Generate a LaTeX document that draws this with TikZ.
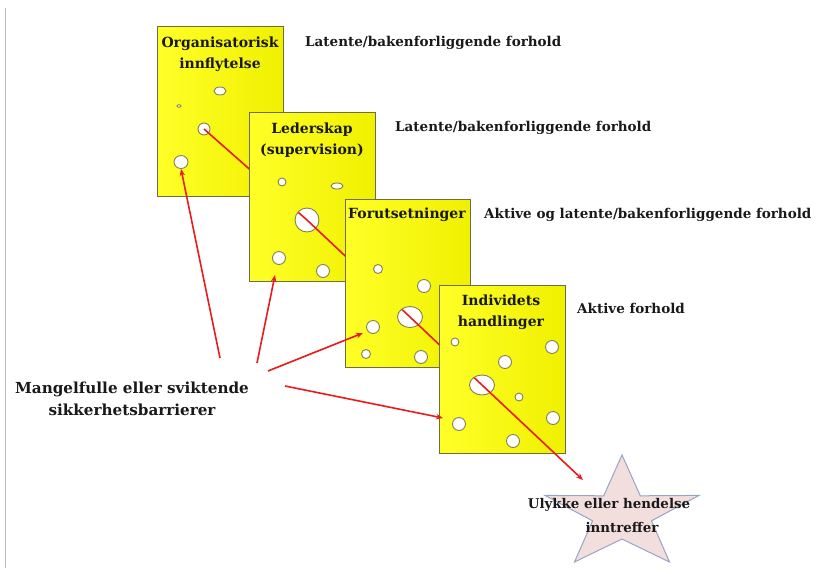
\documentclass[tikz,border=0pt]{standalone}
\usepackage{fontspec}
\setmainfont{DejaVu Serif}
\usetikzlibrary{arrows.meta,calc,shapes.geometric}

\definecolor{sliceedge}{RGB}{110,110,70}
\definecolor{holeedge}{RGB}{130,130,80}
\definecolor{slicelight}{RGB}{255,255,40}
\definecolor{slicedark}{RGB}{240,240,0}
\definecolor{redline}{RGB}{232,28,28}
\definecolor{starfill}{RGB}{243,222,222}
\definecolor{staredge}{RGB}{150,165,198}
\definecolor{framegray}{RGB}{185,185,185}

\tikzset{
  slice/.style={draw=sliceedge, line width=1pt, left color=slicelight, right color=slicedark},
  hole/.style={ellipse, draw=holeedge, fill=white, line width=0.9pt, inner sep=0pt},
  title/.style={font=\bfseries\fontsize{14}{21}\selectfont, align=center, text=black!90},
  label/.style={font=\bfseries\fontsize{13.5}{21}\selectfont, anchor=west, text=black!90, inner sep=0pt},
  trace/.style={draw=redline, line width=1.6pt},
  pointer/.style={draw=redline, line width=1.6pt, -{Stealth[length=7pt,width=5.5pt]}},
}

\begin{document}
\begin{tikzpicture}[x=1pt,y=-1pt]
\useasboundingbox (0,0) rectangle (829,568);
\fill[white] (0,0) rectangle (829,568);
\draw[framegray, line width=0.8pt] (5,8) -- (5,568);

% ---- slice 1: organisational influence
\path[slice] (157,26) rectangle (283,196);
\node[title] (t1) at (220,54) {Organisatorisk\\innflytelse};
\node[hole, minimum width=12pt, minimum height=8pt] (s1a) at (220,91) {};
\node[hole, minimum width=4pt, minimum height=2.5pt] (s1b) at (179,106) {};
\node[hole, minimum width=12pt, minimum height=12pt] (h1) at (204,129) {};
\node[hole, minimum width=14pt, minimum height=13pt] (s1c) at (181,162) {};
\coordinate (h2pos) at (307,220);
\draw[trace] (h1.center) -- (h2pos);

% ---- slice 2: leadership
\path[slice] (249,112) rectangle (375,281);
\node[title] (t2) at (312,140) {Lederskap\\(supervision)};
\node[hole, minimum width=8pt, minimum height=8pt] (s2a) at (282,182) {};
\node[hole, minimum width=12pt, minimum height=6pt] (s2b) at (337,186) {};
\node[hole, minimum width=24pt, minimum height=24pt] (h2) at (h2pos) {};
\node[hole, minimum width=13pt, minimum height=13pt] (s2c) at (279,258) {};
\node[hole, minimum width=13pt, minimum height=13pt] (s2d) at (323,271) {};
\coordinate (h3pos) at (410,317);
\begin{scope}
  \clip (h2) ellipse [x radius=11.5pt, y radius=11.5pt];
  \draw[trace] (h1.center) -- (h2.center);
\end{scope}
\draw[trace] (h2.center) -- (h3pos);

% ---- slice 3: preconditions
\path[slice] (345,199) rectangle (470,367);
\node[title] (t3) at (407,215) {Forutsetninger};
\node[hole, minimum width=9pt, minimum height=9pt] (s3a) at (378,269) {};
\node[hole, minimum width=13pt, minimum height=13pt] (s3b) at (424,286) {};
\node[hole, minimum width=25pt, minimum height=21pt] (h3) at (h3pos) {};
\node[hole, minimum width=13pt, minimum height=13pt] (s3c) at (373,327) {};
\node[hole, minimum width=9pt, minimum height=9pt] (s3d) at (366,354) {};
\node[hole, minimum width=13pt, minimum height=13pt] (s3e) at (421,357) {};
\coordinate (h4pos) at (482,385);
\begin{scope}
  \clip (h3) ellipse [x radius=12pt, y radius=10pt];
  \draw[trace] (h2.center) -- (h3.center);
\end{scope}
\draw[trace] (h3.center) -- (h4pos);

% ---- slice 4: individual actions
\path[slice] (439,285) rectangle (565,453);
\node[title] (t4) at (501,312) {Individets\\handlinger};
\node[hole, minimum width=8pt, minimum height=8pt] (s4a) at (455,342) {};
\node[hole, minimum width=13pt, minimum height=13pt] (s4b) at (552,347) {};
\node[hole, minimum width=13pt, minimum height=13pt] (s4c) at (505,362) {};
\node[hole, minimum width=25pt, minimum height=20pt] (h4) at (h4pos) {};
\node[hole, minimum width=8pt, minimum height=8pt] (s4d) at (519,397) {};
\node[hole, minimum width=13pt, minimum height=13pt] (s4e) at (459,424) {};
\node[hole, minimum width=13pt, minimum height=13pt] (s4f) at (553,418) {};
\node[hole, minimum width=13pt, minimum height=13pt] (s4g) at (513,441) {};
\begin{scope}
  \clip (h4) ellipse [x radius=12pt, y radius=9.5pt];
  \draw[trace] (h3.center) -- (h4.center);
\end{scope}

% ---- outcome star
\draw[staredge, fill=starfill, line width=1pt]
  (622,455) -- (640.3,495.8) -- (699,495.4) -- (651.5,520.8) -- (669.5,562)
  -- (622,539) -- (574.5,562) -- (592.5,520.8) -- (545,495.4) -- (603.7,495.8) -- cycle;
\coordinate (hit) at (583,480);
\draw[pointer] (h4.center) -- (hit);
\node[title, font=\bfseries\fontsize{13.4}{24}\selectfont] (out) at (609,515)
  {Ulykke eller hendelse\\\hspace*{26pt}inntreffer};

% ---- layer labels
\node[label] (l1) at (305,43) {Latente/bakenforliggende forhold};
\node[label] (l2) at (395,128) {Latente/bakenforliggende forhold};
\node[label] (l3) at (484,215) {Aktive og latente/bakenforliggende forhold};
\node[label] (l4) at (577,308) {Aktive forhold};

% ---- failing barriers and their pointers
\node[title, font=\bfseries\fontsize{15.2}{22}\selectfont] (barr) at (132,399) {Mangelfulle eller sviktende\\sikkerhetsbarrierer};
\coordinate (b1) at (220,358);
\coordinate (b2) at (257,363);
\coordinate (b3) at (268,371);
\coordinate (b4) at (285,386);
\coordinate (e2) at (275,275);
\coordinate (e3) at (363,333);
\coordinate (e4) at (443,418);
\draw[pointer] (b1) -- (s1c.south);
\draw[pointer] (b2) -- (e2);
\draw[pointer] (b3) -- (e3);
\draw[pointer] (b4) -- (e4);
\end{tikzpicture}
\end{document}
